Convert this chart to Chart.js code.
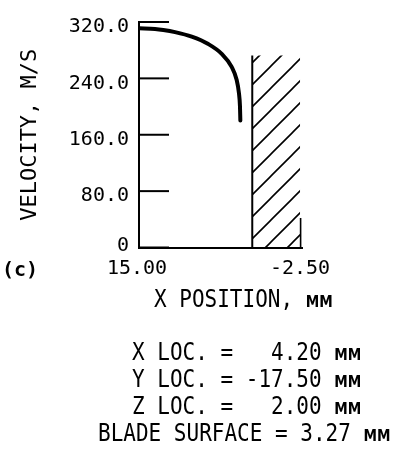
<!DOCTYPE html>
<html>
<head>
<meta charset="utf-8">
<script src="https://cdn.jsdelivr.net/npm/chart.js@4/dist/chart.umd.min.js"></script>
<style>
  html, body { margin: 0; padding: 0; background: #fff; }
  #wrap { position: relative; width: 395px; height: 453px; overflow: hidden; }
  #chart { position: absolute; left: 0; top: 0; }
  .t { position: absolute; white-space: pre; font-family: 'DejaVu Sans Mono', monospace; font-size: 24px; line-height: 24px; color: #000; transform: scaleX(.875); transform-origin: 0 0; }
  .t .u { font-family: 'DejaVu Sans', sans-serif; font-size: 15.5px; font-weight: bold; }
  #tag { font-size: 20px; line-height: 20px; font-weight: bold; transform: none; }
</style>
</head>
<body>
<div id="wrap">
  <canvas id="chart" width="395" height="453"></canvas>
  <div class="t" id="tag" style="left:2px;top:259px">(c)</div>
  <div class="t" style="left:154px;top:287px">X POSITION, <span class="u">MM</span></div>
  <div class="t" style="left:132px;top:340px">X LOC. =   4.20 <span class="u">MM</span></div>
  <div class="t" style="left:132px;top:367px">Y LOC. = -17.50 <span class="u">MM</span></div>
  <div class="t" style="left:132px;top:394px">Z LOC. =   2.00 <span class="u">MM</span></div>
  <div class="t" style="left:98px;top:421px">BLADE SURFACE = 3.27 <span class="u">MM</span></div>
</div>
<script>
(() => {
  'use strict';
  // velocity profile (x position in mm, velocity in m/s)
  const POS_MM = [15.00, 13.28, 12.39, 11.13, 9.34, 7.56, 6.12, 5.05, 4.51, 4.27, 4.16, 4.12];
  const VEL_MS = [311.0, 310.0, 308.6, 305.6, 299.2, 288.7, 274.8, 256.3, 237.6, 219.1, 200.6, 180.2];
  const X_TICKS = [15.00, -2.50];
  const Y_TICKS = [0, 80, 160, 240, 320];
  // blade wall (hatched block)
  const WALL_X = 2.84, WALL_TOP = 272.4, WALL_END = -2.3, EDGE_X = -2.35, EDGE_TOP = 42;
  const HATCH_GAP = 22;

  const $ = id => document.getElementById(id);
  const ink = '#000';

  function hatchPattern(ctx) {
    const tile = document.createElement('canvas');
    tile.width = tile.height = HATCH_GAP;
    const c = tile.getContext('2d');
    c.strokeStyle = ink; c.lineWidth = 1.6;
    c.beginPath();
    c.moveTo(-2, HATCH_GAP + 2); c.lineTo(HATCH_GAP + 2, -2);
    c.moveTo(-2, 2); c.lineTo(2, -2);
    c.moveTo(HATCH_GAP - 2, HATCH_GAP + 2); c.lineTo(HATCH_GAP + 2, HATCH_GAP - 2);
    c.stroke();
    const p = ctx.createPattern(tile, 'repeat');
    p.setTransform(new DOMMatrix().translate(7, 0));
    return p;
  }

  // tick marks point into the plot on the velocity axis
  const inwardTicks = {
    id: 'inwardTicks',
    afterDatasetsDraw(chart) {
      const { ctx, chartArea, scales: { y } } = chart;
      ctx.save();
      ctx.strokeStyle = ink; ctx.lineWidth = 2;
      y.ticks.forEach(t => {
        const py = y.getPixelForValue(t.value);
        ctx.beginPath(); ctx.moveTo(chartArea.left, py); ctx.lineTo(chartArea.left + 30, py); ctx.stroke();
      });
      ctx.restore();
    }
  };

  Chart.defaults.font.family = "'DejaVu Sans Mono', monospace";
  Chart.defaults.color = ink;

  const canvas = $('chart');
  const line = (data, extra) => Object.assign({ data, borderColor: ink, pointRadius: 0, fill: false, tension: 0 }, extra);

  new Chart(canvas, {
    type: 'line',
    data: {
      datasets: [
        line([{ x: WALL_X, y: WALL_TOP }, { x: WALL_END, y: WALL_TOP }], { borderWidth: 0, fill: 'origin', backgroundColor: hatchPattern(canvas.getContext('2d')) }),
        line([{ x: WALL_X, y: 0 }, { x: WALL_X, y: WALL_TOP }], { borderWidth: 2 }),
        line([{ x: EDGE_X, y: 0 }, { x: EDGE_X, y: EDGE_TOP }], { borderWidth: 1.6 }),
        line(POS_MM.map((x, i) => ({ x, y: VEL_MS[i] })), { borderWidth: 4, cubicInterpolationMode: 'monotone', borderCapStyle: 'round' })
      ]
    },
    options: {
      responsive: false, maintainAspectRatio: false, animation: false,
      layout: { padding: { left: 0, top: 17.5, right: 93, bottom: 0 } },
      plugins: { legend: { display: false }, tooltip: { enabled: false } },
      scales: {
        x: {
          type: 'linear', reverse: true, min: -2.5, max: 15,
          grid: { drawOnChartArea: false, drawTicks: false },
          border: { display: true, color: ink, width: 2 },
          afterBuildTicks: s => { s.ticks = X_TICKS.map(value => ({ value })); },
          afterFit: s => { s.height = 453 - 247.5; },
          ticks: { padding: 9, labelOffset: -2, maxRotation: 0, autoSkip: false, font: { size: 20 }, callback: v => v.toFixed(2) }
        },
        y: {
          type: 'linear', min: 0, max: 320,
          grid: { drawOnChartArea: false, drawTicks: false },
          border: { display: true, color: ink, width: 2 },
          afterBuildTicks: s => { s.ticks = Y_TICKS.map(value => ({ value })); },
          afterFit: s => { s.width = 139; },
          title: { display: true, text: 'VELOCITY, M/S', font: { size: 22 }, padding: { top: 17, bottom: 0 } },
          ticks: {
            padding: 10, labelOffset: 5,
            font: ctx => ({ size: 20, lineHeight: ctx.tick && ctx.tick.value === 0 ? '14px' : 1.2 }),
            callback: v => v === 0 ? ['0', ''] : v.toFixed(1)
          }
        }
      }
    },
    plugins: [inwardTicks]
  });
})();
</script>
</body>
</html>
